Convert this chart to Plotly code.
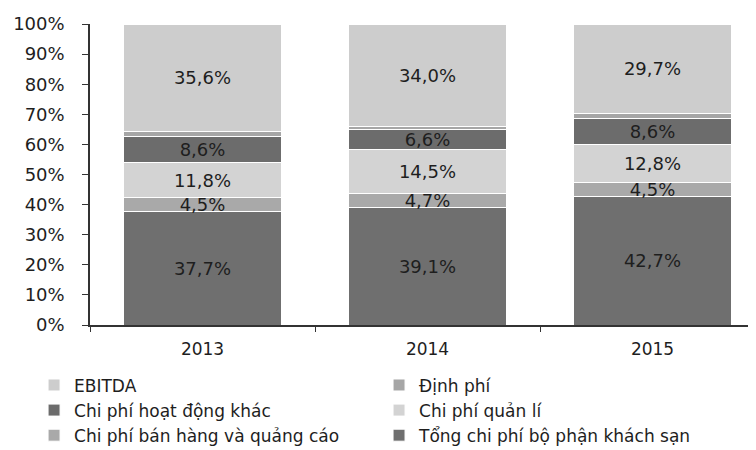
import plotly.graph_objects as go

years = ["2013", "2014", "2015"]
series_names = [
    "Tổng chi phí bộ phận khách sạn",
    "Chi phí bán hàng và quảng cáo",
    "Chi phí quản lí",
    "Chi phí hoạt động khác",
    "Định phí",
    "EBITDA",
]
tong_chi_phi = [37.7, 39.1, 42.7]
ban_hang = [4.5, 4.7, 4.5]
quan_li = [11.8, 14.5, 12.8]
hoat_dong_khac = [8.6, 6.6, 8.6]
dinh_phi = [1.8, 1.1, 1.7]
ebitda = [35.6, 34.0, 29.7]
y_ticks = [0, 10, 20, 30, 40, 50, 60, 70, 80, 90, 100]

values = [tong_chi_phi, ban_hang, quan_li, hoat_dong_khac, dinh_phi, ebitda]
colors = ["#6f6f6f", "#a9a9a9", "#d3d3d3", "#6c6c6c", "#a6a6a6", "#cdcdcd"]
show_labels = [True, True, True, True, False, True]
# left legend column: EBITDA, hoạt động khác, bán hàng ; right: Định phí, quản lí, Tổng
legend_ids = ["legend2", "legend", "legend2", "legend", "legend2", "legend"]

def fmt(v):
    return f"{v:.1f}".replace(".", ",") + "%"

fig = go.Figure()
for name, vals, col, lab, lg in zip(series_names, values, colors, show_labels, legend_ids):
    fig.add_trace(go.Bar(
        x=years, y=vals, name=name, legend=lg,
        marker=dict(color=col, line=dict(color="white", width=1)),
        text=[fmt(v) for v in vals] if lab else None,
        textposition="inside" if lab else "none",
        insidetextanchor="middle",
        constraintext="none",
        textangle=0,
        textfont=dict(family="DejaVu Sans", size=18, color="#1e1e1e"),
        hoverinfo="skip",
    ))

legend_common = dict(
    orientation="v", traceorder="reversed",
    yanchor="top", xanchor="left",
    font=dict(family="DejaVu Sans", size=17, color="#1e1e1e"),
    itemclick=False, itemdoubleclick=False,
    bgcolor="rgba(0,0,0,0)",
)

fig.update_layout(
    width=748, height=442,
    margin=dict(l=82, r=0, t=16, b=125, autoexpand=False),
    barmode="stack", bargap=0.3,
    paper_bgcolor="white", plot_bgcolor="white",
    font=dict(family="DejaVu Sans", color="#1e1e1e"),
    showlegend=True,
    legend=dict(x=-0.084, y=-0.141, **legend_common),
    legend2=dict(x=0.434, y=-0.141, **legend_common),
    xaxis=dict(
        range=[-0.5, 2.46],
        showline=True, linecolor="#333333", linewidth=1.5,
        ticks="outside", tickson="boundaries", ticklen=5, tickcolor="#333333",
        ticklabelstandoff=8,
        tickfont=dict(family="DejaVu Sans", size=17, color="#1e1e1e"),
        showgrid=False, zeroline=False, fixedrange=True,
    ),
    yaxis=dict(
        range=[0, 100],
        tickvals=y_ticks, ticktext=[f"{t}%" for t in y_ticks],
        showline=True, linecolor="#333333", linewidth=1.5,
        ticks="outside", ticklen=6, tickcolor="#333333",
        ticklabelstandoff=14,
        tickfont=dict(family="DejaVu Sans", size=18, color="#1e1e1e"),
        showgrid=False, zeroline=False, fixedrange=True,
    ),
)

fig.write_html("out.html")
